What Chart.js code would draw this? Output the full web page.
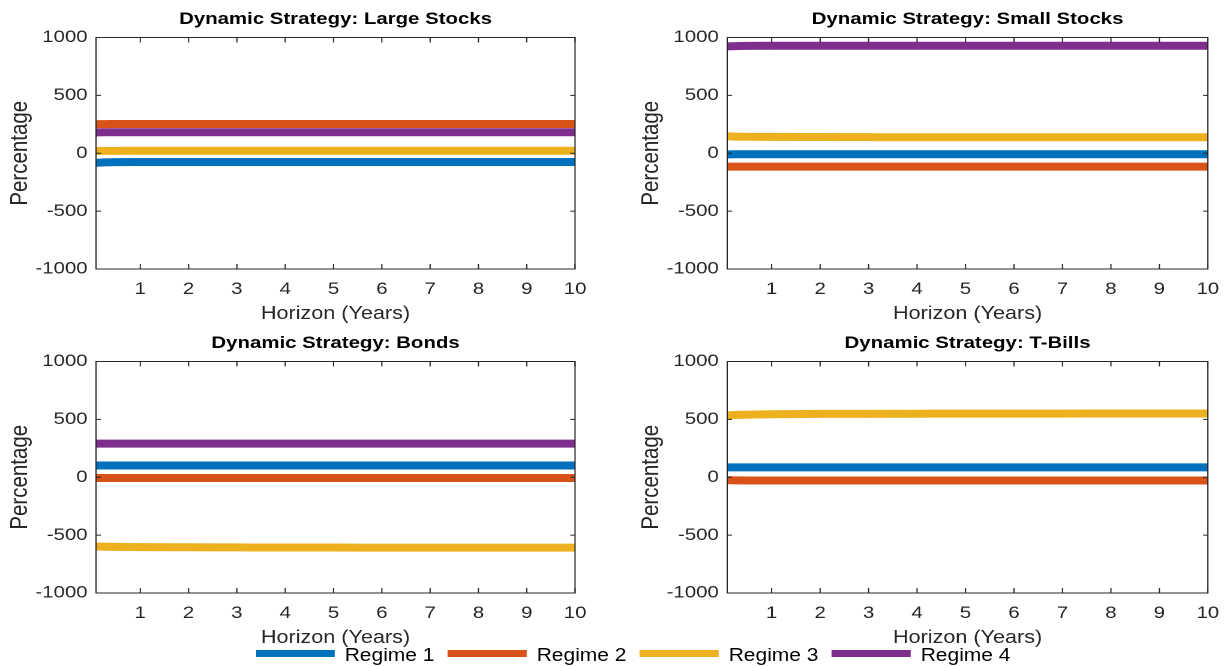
<!DOCTYPE html>
<html>
<head>
<meta charset="utf-8">
<title>Dynamic Strategy</title>
<script src="https://cdn.jsdelivr.net/npm/chart.js@4/dist/chart.umd.min.js"></script>
<style>
  html, body { margin: 0; padding: 0; background: #fff; overflow: hidden; }
  /* figure is laid out at 1026 px and widened to the full 1231 px window */
  #fig { position: absolute; left: 0; top: 0; width: 1026px; height: 666px;
         transform: scaleX(1.2); transform-origin: 0 0; }
  #fig canvas { position: absolute; }
  .leg-line { position: absolute; top: 650px; height: 7px; width: 66.7px; }
  .leg-text { position: absolute; top: 644.6px; line-height: 20px; font-size: 17.5px;
              font-family: "Liberation Sans", Arial, Helvetica, sans-serif; color: #000; white-space: nowrap; }
</style>
</head>
<body>
<div id="fig">
  <canvas id="pLarge"></canvas>
  <canvas id="pSmall"></canvas>
  <canvas id="pBonds"></canvas>
  <canvas id="pBills"></canvas>
  <div id="legend"></div>
</div>
<script>
// Investment horizon in years (first point is one month)
const horizons = [0.0833, 0.25, 0.5, 1, 2, 3, 4, 5, 6, 7, 8, 9, 10];
const xTickValues = [1, 2, 3, 4, 5, 6, 7, 8, 9, 10];
const yTickValues = [-1000, -500, 0, 500, 1000];
const regimeNames = ['Regime 1', 'Regime 2', 'Regime 3', 'Regime 4'];
const panelTitles = ['Dynamic Strategy: Large Stocks', 'Dynamic Strategy: Small Stocks',
                     'Dynamic Strategy: Bonds', 'Dynamic Strategy: T-Bills'];

// Portfolio weights (%) per regime
const largeRegime1 = [-82, -79, -77, -76, -76, -76, -76, -76, -76, -76, -76, -76, -76];
const largeRegime2 = [252, 252, 253, 253, 253, 253, 253, 253, 253, 253, 253, 253, 253];
const largeRegime3 = [20, 21, 21, 22, 22, 22, 22, 22, 22, 22, 22, 22, 22];
const largeRegime4 = [180, 181, 181, 181, 181, 181, 181, 181, 181, 181, 181, 181, 181];

const smallRegime1 = [-10, -9, -9, -9, -9, -9, -9, -9, -9, -9, -9, -9, -9];
const smallRegime2 = [-116, -116, -116, -116, -116, -116, -116, -116, -116, -116, -116, -116, -116];
const smallRegime3 = [146, 144, 142, 141, 140, 139, 138, 138, 138, 138, 138, 138, 138];
const smallRegime4 = [923, 926, 928, 929, 929, 929, 929, 929, 929, 929, 929, 929, 929];

const bondsRegime1 = [102, 102, 102, 102, 102, 102, 102, 102, 102, 102, 102, 102, 102];
const bondsRegime2 = [-7, -7, -7, -7, -7, -7, -7, -7, -7, -7, -7, -7, -7];
const bondsRegime3 = [-598, -600, -602, -604, -605, -606, -607, -607, -608, -608, -608, -608, -608];
const bondsRegime4 = [290, 290, 290, 290, 290, 290, 290, 290, 290, 290, 290, 290, 290];

const billsRegime1 = [85, 85, 85, 85, 85, 85, 85, 85, 85, 85, 85, 85, 85];
const billsRegime2 = [-26, -27, -28, -28, -28, -28, -28, -28, -28, -28, -28, -28, -28];
const billsRegime3 = [534, 538, 541, 544, 547, 548, 549, 550, 550, 550, 551, 551, 551];
const billsRegime4 = [-1294, -1297, -1298, -1300, -1300, -1300, -1300, -1300, -1300, -1300, -1300, -1300, -1300];

const regimeColors = ['#0072BD', '#D95319', '#EDB120', '#7E2F8E'];
const FONT = '"Liberation Sans", Arial, Helvetica, sans-serif';
const AXIS_COLOR = '#262626';

Chart.defaults.font.family = FONT;

// Axes box with inward tick marks on all four sides
const axesBox = {
  id: 'axesBox',
  afterDraw(chart) {
    const { ctx, chartArea: a, scales } = chart;
    ctx.save();
    ctx.strokeStyle = AXIS_COLOR;
    ctx.lineWidth = 1;
    ctx.strokeRect(a.left, a.top, a.right - a.left, a.bottom - a.top);
    ctx.beginPath();
    xTickValues.forEach(v => {
      const px = scales.x.getPixelForValue(v);
      ctx.moveTo(px, a.bottom); ctx.lineTo(px, a.bottom - 5);
      ctx.moveTo(px, a.top); ctx.lineTo(px, a.top + 5);
    });
    yTickValues.forEach(v => {
      const py = scales.y.getPixelForValue(v);
      ctx.moveTo(a.left, py); ctx.lineTo(a.left + 4, py);
      ctx.moveTo(a.right, py); ctx.lineTo(a.right - 4, py);
    });
    ctx.stroke();
    ctx.restore();
  }
};

function makePanel(id, rect, title, series) {
  const cv = document.getElementById(id);
  cv.style.left = rect.left + 'px';
  cv.style.top = rect.top + 'px';
  return new Chart(cv, {
    type: 'line',
    data: {
      datasets: series.map((vals, i) => ({
        label: regimeNames[i],
        data: horizons.map((h, k) => ({ x: h, y: vals[k] })),
        borderColor: regimeColors[i],
        backgroundColor: regimeColors[i],
        borderWidth: 8,
        pointRadius: 0,
        cubicInterpolationMode: 'monotone',
        fill: false
      }))
    },
    options: {
      responsive: false,
      animation: false,
      devicePixelRatio: 2,
      layout: { padding: { left: 0, top: 0, right: rect.w - rect.plotRight, bottom: 0 } },
      plugins: {
        legend: { display: false },
        tooltip: { enabled: false },
        title: {
          display: true, text: title, fullSize: false, color: '#000',
          font: { size: 17, weight: 'bold', family: FONT },
          padding: { top: 9.3, bottom: 7.8 }
        }
      },
      scales: {
        x: {
          type: 'linear', min: horizons[0], max: 10,
          afterBuildTicks: s => { s.ticks = xTickValues.map(v => ({ value: v })); },
          afterFit: s => { s.height = 61; },
          grid: { display: false, drawTicks: false },
          border: { display: false },
          ticks: { color: AXIS_COLOR, font: { size: 17 }, padding: 10, maxRotation: 0,
                   callback: v => String(v) },
          title: { display: true, text: 'Horizon (Years)', color: AXIS_COLOR,
                   font: { size: 18 }, padding: { top: 0, bottom: 5 } }
        },
        y: {
          type: 'linear', min: -1000, max: 1000,
          afterBuildTicks: s => { s.ticks = yTickValues.map(v => ({ value: v })); },
          afterFit: s => { s.width = 80; },
          grid: { display: false, drawTicks: false },
          border: { display: false },
          ticks: { color: AXIS_COLOR, font: { size: 17 }, padding: 7,
                   callback: v => String(v) },
          title: { display: true, text: 'Percentage', color: AXIS_COLOR,
                   font: { size: 20.5 }, padding: { top: 4.5, bottom: 0 } }
        }
      }
    },
    plugins: [axesBox]
  });
}

function sized(id, left, top) {
  const cv = document.getElementById(id);
  cv.width = 500; cv.height = 330;
  return { left, top, w: 500, plotRight: 0 };
}

const rLarge = sized('pLarge', 0, 0);       rLarge.plotRight = 479.2;
const rSmall = sized('pSmall', 525.8, 0);   rSmall.plotRight = 481.7;
const rBonds = sized('pBonds', 0, 323.5);   rBonds.plotRight = 479.2;
const rBills = sized('pBills', 525.8, 323.5); rBills.plotRight = 481.7;

makePanel('pLarge', rLarge, panelTitles[0], [largeRegime1, largeRegime2, largeRegime3, largeRegime4]);
makePanel('pSmall', rSmall, panelTitles[1], [smallRegime1, smallRegime2, smallRegime3, smallRegime4]);
makePanel('pBonds', rBonds, panelTitles[2], [bondsRegime1, bondsRegime2, bondsRegime3, bondsRegime4]);
makePanel('pBills', rBills, panelTitles[3], [billsRegime1, billsRegime2, billsRegime3, billsRegime4]);

// Shared legend along the bottom edge
const legend = document.getElementById('legend');
regimeNames.forEach((name, i) => {
  const x0 = 212.5 + i * 160;
  const line = document.createElement('div');
  line.className = 'leg-line';
  line.style.left = x0 + 'px';
  line.style.background = regimeColors[i];
  const txt = document.createElement('div');
  txt.className = 'leg-text';
  txt.style.left = (x0 + 74.7) + 'px';
  txt.textContent = name;
  legend.appendChild(line);
  legend.appendChild(txt);
});
</script>
</body>
</html>
